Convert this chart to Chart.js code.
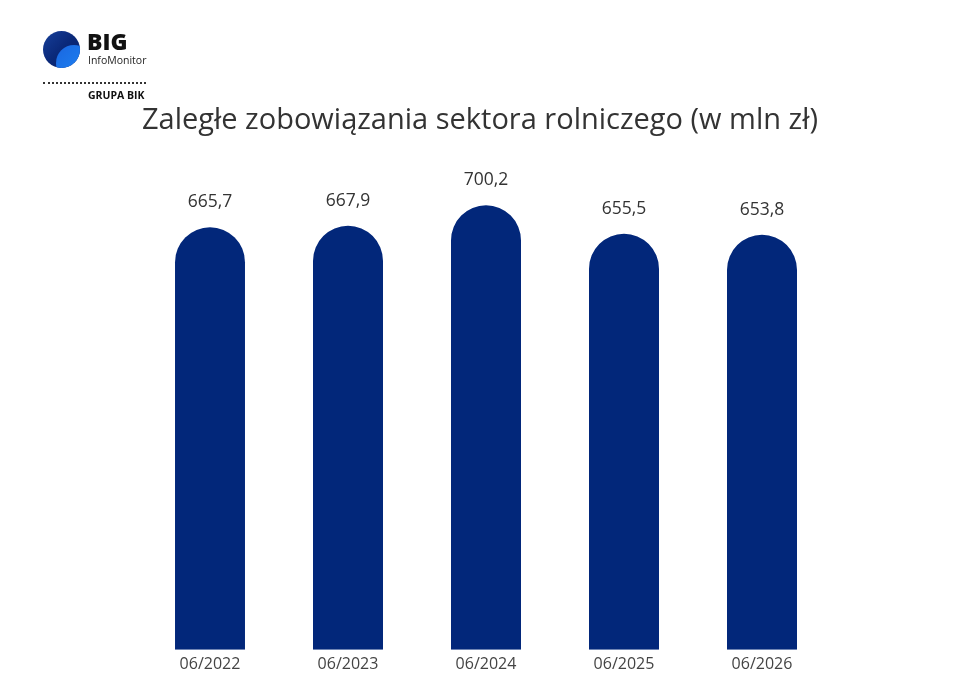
<!DOCTYPE html>
<html>
<head>
<meta charset="utf-8">
<script src="https://cdn.jsdelivr.net/npm/chart.js@4"></script>
<style>
  html, body { margin:0; padding:0; background:#ffffff; width:960px; height:683px; overflow:hidden; }
  #wrap { position:relative; width:960px; height:683px; }
  #c { position:absolute; left:0; top:0; }
  .logo-circle { position:absolute; left:43px; top:31px; width:37px; height:37px; border-radius:50%; overflow:hidden;
    background:linear-gradient(135deg,#173f9a 0%,#0a2878 50%,#071f66 100%); }
  .logo-inner { position:absolute; left:13px; top:14px; width:36px; height:36px; border-radius:50%;
    background:linear-gradient(135deg,#1a66e0 0%,#1e8af7 100%); }
  .big { position:absolute; left:87px; top:25px; font-family:"Open Sans",sans-serif; font-weight:800; font-size:23px; color:#111; }
  .info { position:absolute; left:88px; top:53px; font-family:"Open Sans",sans-serif; font-size:10.5px; color:#222; }
  .dots { position:absolute; left:43px; top:82px; width:103px; border-top:2px dotted #333; }
  .grupa { position:absolute; left:88px; top:88px; font-family:"Open Sans",sans-serif; font-weight:700; font-size:10.5px; color:#111; }
  #title { position:absolute; left:0; top:98px; width:960px; text-align:center; font-family:"Open Sans",sans-serif; font-size:29px; color:#333; }
</style>
</head>
<body>
<div id="wrap">
  <canvas id="c" width="960" height="683"></canvas>
  <div class="logo-circle"><div class="logo-inner"></div></div>
  <div class="big">BIG</div>
  <div class="info">InfoMonitor</div>
  <div class="dots"></div>
  <div class="grupa">GRUPA BIK</div>
  <div id="title">Zaległe zobowiązania sektora rolniczego (w mln zł)</div>
</div>
<script>
const categories = ["06/2022", "06/2023", "06/2024", "06/2025", "06/2026"];
const values = [665.7, 667.9, 700.2, 655.5, 653.8];

const valueLabels = {
  id: 'valueLabels',
  afterDatasetsDraw(chart) {
    const ctx = chart.ctx;
    const meta = chart.getDatasetMeta(0);
    ctx.save();
    ctx.font = '17.5px "Open Sans", sans-serif';
    ctx.fillStyle = '#333333';
    ctx.textAlign = 'center';
    ctx.textBaseline = 'middle';
    meta.data.forEach((bar, i) => {
      const txt = values[i].toFixed(1).replace('.', ',');
      ctx.fillText(txt, bar.x, bar.y - 25);
    });
    ctx.restore();
  }
};

new Chart(document.getElementById('c'), {
  type: 'bar',
  data: {
    labels: categories,
    datasets: [{
      data: values,
      backgroundColor: '#02277a',
      borderWidth: 0,
      borderRadius: { topLeft: 35, topRight: 35, bottomLeft: 0, bottomRight: 0 },
      borderSkipped: false,
      categoryPercentage: 1,
      barPercentage: 0.507
    }]
  },
  options: {
    responsive: false,
    animation: false,
    devicePixelRatio: 1,
    layout: { padding: { left: 141, right: 129, top: 142, bottom: 4 } },
    plugins: { legend: { display: false }, title: { display: false }, tooltip: { enabled: false } },
    scales: {
      x: {
        grid: { display: false, drawTicks: false },
        border: { display: false },
        ticks: { font: { family: '"Open Sans", sans-serif', size: 16 }, color: '#444444', padding: 5 }
      },
      y: {
        display: false,
        min: 0,
        max: 800
      }
    }
  },
  plugins: [valueLabels]
});
</script>
</body>
</html>
